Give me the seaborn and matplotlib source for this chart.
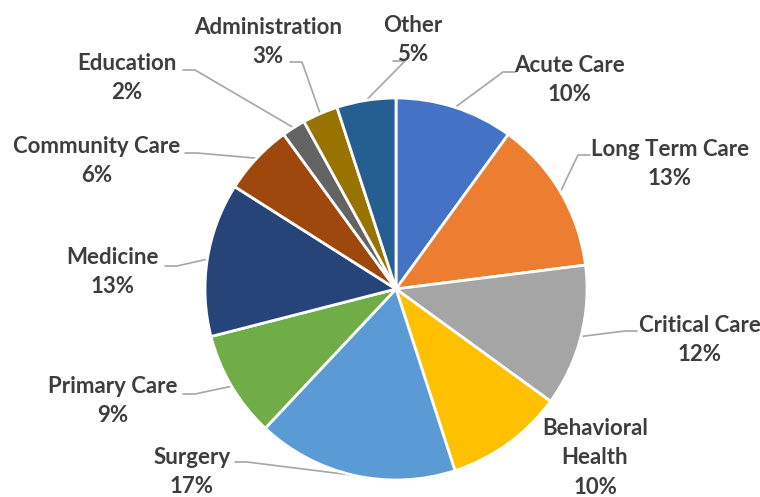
import numpy as np
import seaborn as sns
import matplotlib.pyplot as plt

# Data
categories = ['Acute Care', 'Long Term Care', 'Critical Care', 'Behavioral Health', 'Surgery',
              'Primary Care', 'Medicine', 'Community Care', 'Education', 'Administration', 'Other']
label_text = ['Acute Care', 'Long Term Care', 'Critical Care', 'Behavioral\nHealth', 'Surgery',
              'Primary Care', 'Medicine', 'Community Care', 'Education', 'Administration', 'Other']
shares = [10, 13, 12, 10, 17, 9, 13, 6, 2, 3, 5]
colors = ['#4472C4', '#ED7D31', '#A5A5A5', '#FFC000', '#5B9BD5', '#70AD47',
          '#264478', '#9E480E', '#636363', '#997300', '#255E91']

sns.set_theme(style='white')
plt.rcParams['font.family'] = ['Lato', 'DejaVu Sans']

W, H = 760, 497
fig = plt.figure(figsize=(W / 100, H / 100), dpi=100)
ax = fig.add_axes([0, 0, 1, 1])

cx, cy, r = 396, H - 289, 191
wedges, _ = ax.pie(shares, colors=colors, startangle=90, counterclock=False,
                   center=(cx, cy), radius=r,
                   wedgeprops=dict(edgecolor='white', linewidth=2))
ax.set_xlim(0, W)
ax.set_ylim(0, H)
ax.set_aspect('equal')
ax.axis('off')

# label block centres (pixels from top-left) and leader-line starts
text_pos = [(569, 80), (670, 164), (700, 340), (595, 458), (192, 472),
            (113, 401), (113, 272), (97, 161), (127, 78), (268, 42), (413, 40)]
line_start = [(515, 72), (590, 155), (637, 331), None, (235, 462),
              (183, 394), (165, 266), (185, 153), (183, 70), (290, 62), (393, 61)]

txt_color = '#3d3d3d'
for w, name, val, tp, ls in zip(wedges, label_text, shares, text_pos, line_start):
    ax.text(tp[0], H - tp[1], f'{name}\n{val}%', ha='center', va='center',
            fontsize=16, fontweight='bold', color=txt_color, linespacing=1.5)
    if ls is None:
        continue
    mid = np.deg2rad((w.theta1 + w.theta2) / 2)
    ex, ey = cx + r * np.cos(mid), cy + r * np.sin(mid)
    step = -12 if ls[0] > cx else 12
    xs = [ls[0], ls[0] + step, ex]
    ys = [H - ls[1], H - ls[1], ey]
    ax.plot(xs, ys, color='#A6A6A6', linewidth=1.2, zorder=0)

fig.savefig('out.png', dpi=100)
